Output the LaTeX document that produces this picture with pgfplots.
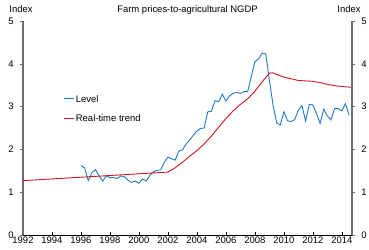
\documentclass[border=0pt]{standalone}
\usepackage{pgfplots}
\pgfplotsset{compat=1.18}
\usepackage{fontspec}
\setmainfont{Liberation Sans}
\definecolor{lvl}{RGB}{31,120,200}
\definecolor{trd}{RGB}{204,20,30}
\definecolor{spine}{RGB}{110,110,110}
\begin{document}
\fontsize{9.5}{11}\selectfont
\begin{tikzpicture}
\useasboundingbox (-23bp,-15bp) rectangle (346bp,235bp);
\pgfplotsset{
  common/.style={
    scale only axis, width=329bp, height=214bp,
    xmin=1992, xmax=2014.7, ymin=0, ymax=5,
    ytick={0,1,2,3,4,5},
    /pgf/number format/assume math mode=true,
    /pgf/number format/1000 sep={},
    tick label style={font=\fontsize{9.5}{11}\selectfont},
    major tick length=3bp,
  }
}
\begin{axis}[common,
  axis x line*=bottom, axis y line*=left,
  xtick={1992,1994,...,2014},
  x axis line style={black, line width=0.8pt, -},
  y axis line style={spine, line width=1.2pt, -},
  xtick style={black, line width=0.6pt},
  ytick style={spine, line width=0.6pt},
  xtick align=inside, ytick align=outside,
  xticklabel style={yshift=1bp},
  yticklabel style={xshift=-3bp},
  clip=false,
]
\addplot[color=lvl, line width=0.9pt] coordinates {
(1996.00,1.62) (1996.25,1.57) (1996.50,1.27) (1996.75,1.45)
(1997.00,1.53) (1997.25,1.38) (1997.50,1.26) (1997.75,1.38)
(1998.00,1.34) (1998.25,1.34) (1998.50,1.32) (1998.75,1.38)
(1999.00,1.36) (1999.25,1.28) (1999.50,1.23) (1999.75,1.26)
(2000.00,1.21) (2000.25,1.31) (2000.50,1.26) (2000.75,1.39)
(2001.00,1.48) (2001.25,1.51) (2001.50,1.52) (2001.75,1.70)
(2002.00,1.82) (2002.25,1.78) (2002.50,1.75) (2002.75,1.96)
(2003.00,1.99) (2003.25,2.12) (2003.50,2.22) (2003.75,2.33)
(2004.00,2.43) (2004.25,2.49) (2004.50,2.50) (2004.75,2.88)
(2005.00,2.89) (2005.25,3.14) (2005.50,3.11) (2005.75,3.29)
(2006.00,3.13) (2006.25,3.25) (2006.50,3.31) (2006.75,3.33)
(2007.00,3.31) (2007.25,3.35) (2007.50,3.35) (2007.75,3.70)
(2008.00,4.05) (2008.25,4.11) (2008.50,4.25) (2008.75,4.23)
(2009.00,3.62) (2009.25,3.04) (2009.50,2.62) (2009.75,2.57)
(2010.00,2.88) (2010.25,2.67) (2010.50,2.65) (2010.75,2.70)
(2011.00,2.92) (2011.25,3.02) (2011.50,2.66) (2011.75,3.05)
(2012.00,3.04) (2012.25,2.84) (2012.50,2.61) (2012.75,2.94)
(2013.00,2.78) (2013.25,2.69) (2013.50,2.96) (2013.75,2.95)
(2014.00,2.90) (2014.25,3.07) (2014.50,2.80)
};
\addplot[color=trd, line width=0.9pt] coordinates {
(1992.00,1.27) (2002.00,1.47) (2002.50,1.57) (2003.00,1.70)
(2003.50,1.84) (2004.00,1.97) (2004.50,2.13) (2005.00,2.31)
(2005.50,2.52) (2006.00,2.72) (2006.50,2.90) (2007.00,3.05)
(2007.50,3.18) (2008.00,3.36) (2008.50,3.58) (2009.00,3.78)
(2009.25,3.79) (2009.50,3.75) (2010.00,3.69) (2010.50,3.65)
(2011.00,3.61) (2011.50,3.60) (2012.00,3.59) (2012.50,3.56)
(2013.00,3.52) (2013.50,3.49) (2014.00,3.47) (2014.70,3.45)
};
% legend
\draw[lvl, line width=0.9pt] (axis cs:1994.80,3.18) -- (axis cs:1995.55,3.18)
  node[anchor=west, black, inner sep=1pt] {Level};
\draw[trd, line width=0.9pt] (axis cs:1994.80,2.73) -- (axis cs:1995.55,2.73)
  node[anchor=west, black, inner sep=1pt] {Real-time trend};
\end{axis}
\begin{axis}[common,
  axis y line*=right, axis x line=none,
  y axis line style={spine, line width=1.2pt, -},
  ytick style={spine, line width=0.6pt},
  ytick align=outside,
  yticklabel style={xshift=3bp},
]
\end{axis}
\node[anchor=base] at (164.5bp,222bp) {Farm prices-to-agricultural NGDP};
\node[anchor=base] at (-2bp,222bp) {Index};
\node[anchor=base] at (326bp,222bp) {Index};
\end{tikzpicture}
\end{document}
